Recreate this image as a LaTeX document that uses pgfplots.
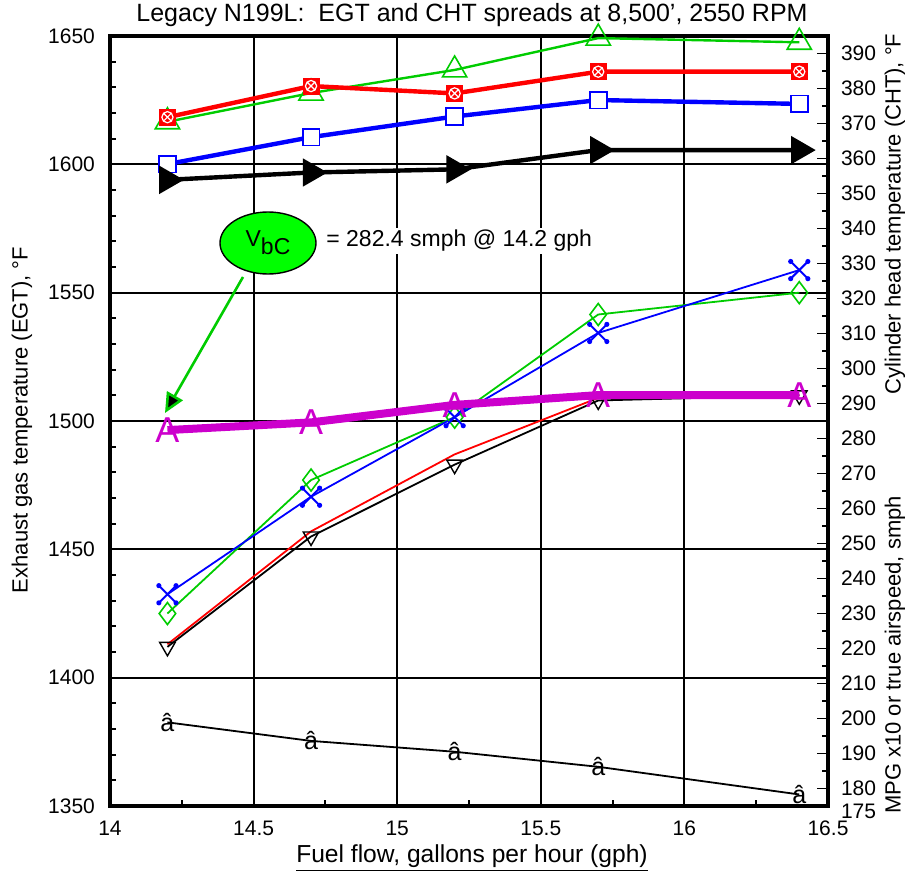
\documentclass[border=0pt]{standalone}
\usepackage{pgfplots}
\pgfplotsset{compat=1.18}
\usepackage{fontspec}
\setmainfont{Liberation Sans}
\usetikzlibrary{arrows.meta,shapes.geometric}
\definecolor{cgreen}{RGB}{0,204,0}
\definecolor{lime}{RGB}{0,255,0}
\definecolor{cmag}{RGB}{204,0,204}
\pgfdeclareplotmark{dotx}{%
  \pgfpathmoveto{\pgfqpoint{-\pgfplotmarksize}{-\pgfplotmarksize}}%
  \pgfpathlineto{\pgfqpoint{\pgfplotmarksize}{\pgfplotmarksize}}%
  \pgfpathmoveto{\pgfqpoint{-\pgfplotmarksize}{\pgfplotmarksize}}%
  \pgfpathlineto{\pgfqpoint{\pgfplotmarksize}{-\pgfplotmarksize}}%
  \pgfusepathqstroke
  \pgfpathcircle{\pgfqpoint{\pgfplotmarksize}{\pgfplotmarksize}}{0.3\pgfplotmarksize}%
  \pgfpathcircle{\pgfqpoint{-\pgfplotmarksize}{\pgfplotmarksize}}{0.3\pgfplotmarksize}%
  \pgfpathcircle{\pgfqpoint{\pgfplotmarksize}{-\pgfplotmarksize}}{0.3\pgfplotmarksize}%
  \pgfpathcircle{\pgfqpoint{-\pgfplotmarksize}{-\pgfplotmarksize}}{0.3\pgfplotmarksize}%
  \pgfusepathqfill
}
\pgfplotsset{
  common/.style={
    scale only axis, width=359pt, height=385pt,
    xmin=14, xmax=16.5,
    tick align=inside,
    tick style={black, line width=0.9pt},
    axis line style={line width=1.6pt},
    tick label style={font=\fontsize{10.5}{12}\selectfont},
    /pgf/number format/assume math mode=true,
    /pgf/number format/1000 sep={},
  }
}
\begin{document}
\begin{tikzpicture}
\useasboundingbox (-55pt,-34.5pt) rectangle (397.5pt,403pt);
\begin{axis}[common,
  ymin=1350, ymax=1650,
  xtick={14,14.5,15,15.5,16,16.5},
  minor xtick={14.25,14.75,15.25,15.75,16.25},
  ytick={1350,1400,1450,1500,1550,1600,1650},
  minor ytick={1360,1370,...,1640},
  xtick pos=bottom, ytick pos=left,
  major tick length=0pt, minor tick length=3pt,
  grid=major,
  major grid style={black, line width=1pt},
  yticklabel style={xshift=-4pt},
  xticklabel style={yshift=-4pt},
]
% EGT series
\addplot[red, line width=0.9pt] coordinates {(14.2,1413) (14.7,1457) (15.2,1487) (15.7,1509) (16.4,1510)};
\addplot[black, line width=0.9pt, mark=triangle, mark size=4.5pt, mark options={rotate=180, fill=white, line width=0.7pt}] coordinates {(14.2,1412) (14.7,1455) (15.2,1483) (15.7,1508) (16.4,1510)};
\addplot[cgreen, line width=0.9pt, mark=diamond, mark size=5.5pt, mark options={fill=white, line width=0.8pt}] coordinates {(14.2,1425) (14.7,1477) (15.2,1501.5) (15.7,1541.5) (16.4,1550)};
\addplot[blue, line width=0.9pt, mark=dotx, mark size=4.3pt, mark options={line width=1pt}] coordinates {(14.2,1432.5) (14.7,1470.5) (15.2,1501.5) (15.7,1534.3) (16.4,1558.8)};
\end{axis}
\begin{axis}[common,
  ymin=175, ymax=395,
  axis x line=none, axis y line*=right,
  ytick={180,190,200,210,220,230,240,250,260,270,280,290,300,310,320,330,340,350,360,370,380,390},
  extra y ticks={175},
  extra y tick style={yticklabel style={yshift=-2.5pt}},
  minor ytick={185,195,...,385},
  major tick length=5.5pt, minor tick length=3pt,
  yticklabel style={xshift=3pt},
  clip=false,
]
% CHT series
\addplot[cgreen, line width=1.2pt, mark=triangle, mark size=7pt, mark options={fill=white, line width=0.8pt}] coordinates {(14.2,370.5) (14.7,378.7) (15.2,385.3) (15.7,394.4) (16.4,393.2)};
\addplot[blue, line width=2.2pt, mark=square*, mark size=4.2pt, mark options={fill=white, line width=0.9pt}] coordinates {(14.2,358.4) (14.7,366.1) (15.2,372) (15.7,376.7) (16.4,375.6)};
\addplot[black, line width=2.2pt, mark=triangle*, mark size=6pt, mark options={rotate=-90}] coordinates {(14.2,353.9) (14.7,356) (15.2,356.9) (15.7,362.4) (16.4,362.4)};
\addplot[red, line width=2.2pt, mark=square*, mark size=4pt, mark options={fill=red, line width=0.5pt}] coordinates {(14.2,371.8) (14.7,380.7) (15.2,378.6) (15.7,384.8) (16.4,384.8)};
\addplot[only marks, mark=otimes, mark size=2.8pt, mark options={white, line width=0.6pt}] coordinates {(14.2,371.8) (14.7,380.7) (15.2,378.6) (15.7,384.8) (16.4,384.8)};
% TAS
\addplot[cmag, line width=4pt, mark=text, text mark={\fontsize{18}{18}\selectfont\color{cmag}A}] coordinates {(14.2,282.4) (14.7,284.6) (15.2,289.6) (15.7,292.4) (16.4,292.4)};
% MPG x10
\addplot[black, line width=0.9pt, mark=text, text mark={\fontsize{12.5}{12.5}\selectfont\color{black}â}] coordinates {(14.2,198.9) (14.7,193.6) (15.2,190.5) (15.7,186.2) (16.4,178.3)};
\end{axis}
% annotations
\node[ellipse, draw=black, line width=0.7pt, fill=lime, minimum width=48pt, minimum height=31pt, inner sep=0pt, font=\fontsize{11.5}{12}\selectfont] at (79pt,281.5pt) {V\raisebox{-4pt}{bC}};
\node[fill=white, anchor=west, inner sep=1pt, font=\fontsize{11.5}{13}\selectfont] at (107pt,282.5pt) {= 282.4 smph @ 14.2 gph};
\draw[cgreen, line width=1.3pt, -{Triangle[length=10pt,width=9pt,fill=black]}] (66.5pt,264.5pt) -- (27.5pt,196.5pt);
% title and labels
\node[font=\fontsize{12.5}{14}\selectfont] at (181pt,395.5pt) {Legacy N199L:\ \ EGT and CHT spreads at 8,500', 2550 RPM};
\node[rotate=90, font=\fontsize{11}{13}\selectfont] at (-44pt,193pt) {Exhaust gas temperature (EGT), °F};
\node[rotate=90, font=\fontsize{11}{13}\selectfont] at (392.5pt,296pt) {Cylinder head temperature (CHT), °F};
\node[rotate=90, font=\fontsize{11}{13}\selectfont] at (392.5pt,75.5pt) {MPG x10 or true airspeed, smph};
\node[font=\fontsize{12.3}{14}\selectfont] at (181pt,-26pt) {\underline{Fuel flow, gallons per hour (gph)}};
\end{tikzpicture}
\end{document}
